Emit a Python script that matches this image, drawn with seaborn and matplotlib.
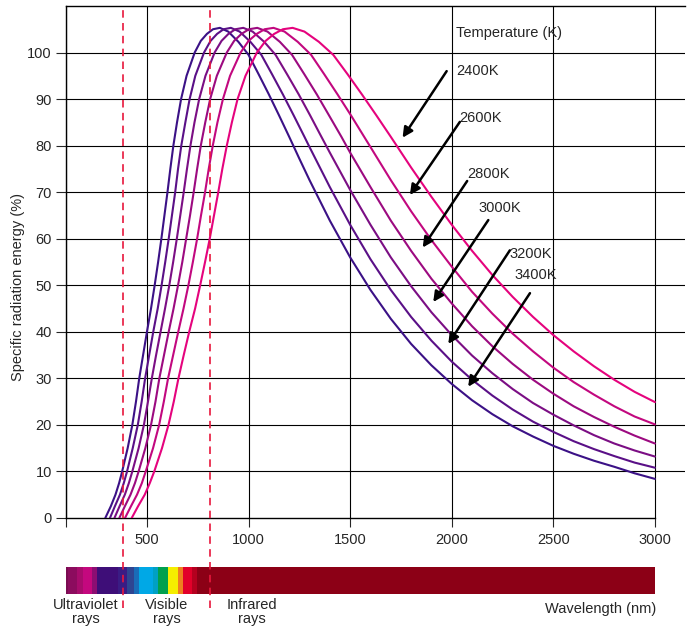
import pandas as pd
import seaborn as sns
import numpy as np
from matplotlib import pyplot as plt

# curves (wavelength nm -> specific radiation energy %)
temps = ["3400K", "3200K", "3000K", "2800K", "2600K", "2400K"]
line_colors = ["#3b1186", "#5a1087", "#7b0e84", "#9c0a80", "#c2087f", "#e5037d"]

rise_levels = [0, 2.5, 5, 7.5, 10, 15, 20, 25, 30, 35, 40, 45, 50, 55, 60, 65, 70,
               75, 80, 85, 90, 95, 100, 102.5, 104, 105, 105.3]
tail_wl = [2000, 2100, 2200, 2300, 2400, 2500, 2600, 2700, 2800, 2900, 3000]

wl_3400 = [295, 322, 345, 363, 378, 405, 428, 446, 462, 481, 500, 520, 538, 555, 571, 586, 601,
           615, 630, 648, 668, 695, 735, 765, 795, 825, 859,
           900, 950, 1000, 1050, 1100, 1150, 1200, 1250, 1300, 1400, 1500, 1600, 1700, 1800,
           1900] + tail_wl
val_3400 = rise_levels + [104.5, 102.3, 99.5, 95.3, 91.0, 86.5, 81.9, 77.2, 72.6, 63.9, 56.0,
                          49.0, 42.8, 37.4, 32.8,
                          28.8, 25.3, 22.3, 19.7, 17.5, 15.5, 13.8, 12.3, 11.0, 9.6, 8.4]

wl_3200 = [318, 342, 367, 386, 402, 430, 455, 474, 491, 511, 531, 553, 572, 590, 607, 623, 639,
           653, 669, 689, 710, 738, 781, 813, 845, 877, 913,
           956, 1009, 1063, 1116, 1169, 1222, 1275, 1300, 1400, 1500, 1600, 1700, 1800,
           1900] + tail_wl
val_3200 = rise_levels + [104.5, 102.3, 99.5, 95.3, 91.0, 86.5, 81.9, 79.7, 71.1, 63.0, 55.6,
                          49.0, 43.2, 38.1,
                          33.6, 29.7, 26.3, 23.3, 20.7, 18.5, 16.5, 14.8, 13.3, 11.9, 10.8]

wl_3000 = [340, 365, 391, 411, 428, 459, 485, 505, 524, 545, 567, 589, 610, 629, 647, 664, 681,
           697, 714, 734, 757, 788, 833, 867, 901, 935, 974,
           1020, 1077, 1133, 1190, 1247, 1303, 1350, 1400, 1500, 1600, 1700, 1800,
           1900] + tail_wl
val_3000 = rise_levels + [104.5, 102.3, 99.5, 95.3, 91.0, 86.5, 82.6, 78.5, 70.5, 63.0, 56.0,
                          49.8, 44.2,
                          39.3, 34.9, 31.1, 27.7, 24.7, 22.2, 19.9, 17.8, 16.0, 14.5, 13.2]

wl_2800 = [364, 391, 419, 441, 459, 492, 520, 542, 561, 584, 607, 631, 653, 674, 693, 712, 730,
           747, 765, 787, 811, 844, 893, 929, 965, 1002, 1043,
           1093, 1154, 1214, 1275, 1336, 1396, 1457, 1500, 1600, 1700, 1800,
           1900] + tail_wl
val_2800 = rise_levels + [104.5, 102.3, 99.5, 95.3, 91.0, 86.5, 81.9, 78.5, 71.1, 63.9, 57.4,
                          51.4,
                          46.1, 41.2, 36.9, 33.1, 29.7, 26.7, 24.0, 21.7, 19.6, 17.7, 16.0]

wl_2600 = [392, 421, 451, 475, 494, 530, 560, 583, 604, 629, 654, 680, 704, 726, 747, 766, 786,
           804, 824, 847, 874, 909, 961, 1000, 1040, 1079, 1123,
           1177, 1242, 1308, 1373, 1438, 1504, 1600, 1700, 1800, 1900] + tail_wl
val_2600 = rise_levels + [104.5, 102.3, 99.5, 95.3, 91.0, 86.5, 79.7, 72.6, 65.9, 59.7,
                          54.0, 48.6, 43.9, 39.6, 35.8, 32.3, 29.2, 26.5, 24.0, 21.8, 20.1]

wl_2400 = [425, 456, 489, 514, 536, 574, 606, 632, 655, 681, 708, 737, 762, 786, 809, 830, 851,
           871, 893, 918, 946, 985, 1041, 1084, 1126, 1169, 1217,
           1275, 1346, 1417, 1488, 1558, 1629, 1700, 1800, 1900] + tail_wl
val_2400 = rise_levels + [104.5, 102.3, 99.5, 95.3, 91.0, 86.5, 81.9, 75.3, 69.0,
                          63.0, 57.4, 52.2, 47.5, 43.2, 39.3, 35.8, 32.6, 29.7, 27.1, 24.9]

# colour spectrum strip underneath
band_edges = [100, 113, 157, 186, 228, 252, 359, 403, 436, 461, 528, 556, 605, 651, 679, 720, 745, 3000]
band_colors = ["#7a0c52", "#8c0c5e", "#a80c6c", "#c4087e", "#8c0e72", "#3e0e78", "#3a1c84",
               "#2e4592", "#1a6cb8", "#00a8e6", "#00a0c4", "#00a04e", "#f5ee00", "#ee7f1f",
               "#e2002a", "#b5001f", "#8c0016"]

x_ticks = [500, 1000, 1500, 2000, 2500, 3000]
y_ticks = [0, 10, 20, 30, 40, 50, 60, 70, 80, 90, 100]
visible_limits = [380, 810]

sns.set_style("ticks")
plt.rcParams["font.family"] = ["Liberation Sans", "DejaVu Sans"]
plt.rcParams["font.size"] = 10.5

frames = []
for t, wl, val in zip(temps,
                      [wl_3400, wl_3200, wl_3000, wl_2800, wl_2600, wl_2400],
                      [val_3400, val_3200, val_3000, val_2800, val_2600, val_2400]):
    frames.append(pd.DataFrame({"wavelength": wl, "energy": val, "temp": t}))
df = pd.concat(frames, ignore_index=True)

fig = plt.figure(figsize=(6.95, 6.29), dpi=100)
ax = fig.add_axes([0.0945, 0.1765, 0.8911, 0.8140])
ax.set_zorder(3)
ax.patch.set_alpha(0)

sns.lineplot(
    data=df,
    x="wavelength",
    y="energy",
    hue="temp",
    palette=dict(zip(temps, line_colors)),
    estimator=None,
    sort=False,
    linewidth=1.5,
    legend=False,
    ax=ax,
    zorder=4
)

ax.set_xlim(100, 3148)
ax.set_ylim(0, 110)
ax.set_xticks([100] + x_ticks)
ax.set_xticklabels([""] + [str(x) for x in x_ticks])
ax.set_yticks(y_ticks)
ax.set_yticklabels([str(y) for y in y_ticks])
ax.set_xlabel("")
ax.set_ylabel("")
ax.grid(True, color="black", linewidth=0.8)
ax.yaxis.get_gridlines()[0].set_visible(False)
ax.tick_params(axis="x", direction="out", length=6.5, width=0.8, pad=4, labelsize=10.5)
ax.tick_params(axis="y", direction="out", length=7, width=0.8, pad=3, labelsize=10.5)
ax.spines["right"].set_visible(False)
ax.spines["bottom"].set_bounds(100, 3000)
for s in ["top", "left", "bottom"]:
    ax.spines[s].set_linewidth(1.0)
    ax.spines[s].set_color("black")

for v in visible_limits:
    ax.axvline(v, ymin=-0.176, ymax=1, color="#e8173c", linewidth=1.2,
               dashes=(4.5, 3.2), clip_on=False, zorder=5)

ax.text(2021, 104.3, "Temperature (K)", ha="left", va="center")
label_pos = {"2400K": (2021, 96.0), "2600K": (2037, 86.0), "2800K": (2076, 73.9),
             "3000K": (2134, 66.7), "3200K": (2283, 56.7), "3400K": (2310, 52.3)}
arrow_pos = {"2400K": ((1975, 96.0), (1758, 81.7)),
             "2600K": ((2040, 85.1), (1794, 69.4)),
             "2800K": ((2076, 72.4), (1857, 58.1)),
             "3000K": ((2180, 64.0), (1909, 46.4)),
             "3200K": ((2286, 57.5), (1983, 37.4)),
             "3400K": ((2385, 48.3), (2081, 28.2))}
for t in temps:
    ax.text(*label_pos[t], t, ha="left", va="center", zorder=6)
    tail, head = arrow_pos[t]
    ax.annotate("", xy=head, xytext=tail,
                arrowprops=dict(arrowstyle="-|>", color="black", lw=1.8,
                                mutation_scale=15, shrinkA=0, shrinkB=0),
                zorder=6)

fig.text(18 / 695, 1 - 287 / 629, "Specific radiation energy (%)",
         rotation=90, ha="center", va="center")

# spectrum strip
ax2 = fig.add_axes([0.0945, 0.0552, 0.8911, 0.0439])
ax2.bar(band_edges[:-1], 1, width=np.diff(band_edges), align="edge",
        color=band_colors, linewidth=0)
ax2.set_xlim(100, 3148)
ax2.set_ylim(0, 1)
ax2.axis("off")

fig.text(86 / 695, 1 - 612 / 629, "Ultraviolet\nrays", ha="center", va="center", linespacing=0.95)
fig.text(166.5 / 695, 1 - 612 / 629, "Visible\nrays", ha="center", va="center", linespacing=0.95)
fig.text(252 / 695, 1 - 612 / 629, "Infrared\nrays", ha="center", va="center", linespacing=0.95)
fig.text(656 / 695, 1 - 609 / 629, "Wavelength (nm)", ha="right", va="center")

plt.savefig("out.png", dpi=100)
